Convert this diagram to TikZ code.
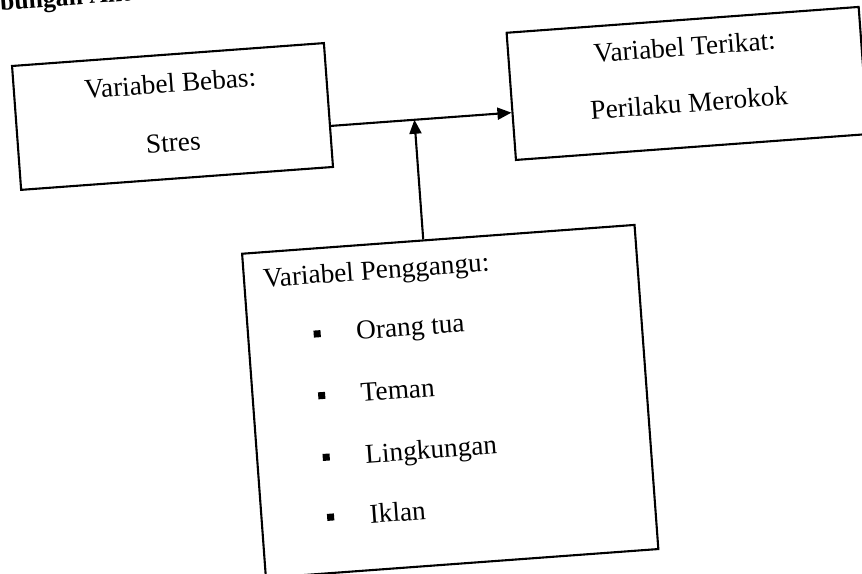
\documentclass[tikz,border=0pt]{standalone}
\usepackage{fontspec}
\setmainfont{Liberation Serif}
\usetikzlibrary{arrows.meta}
\begin{document}
\begin{tikzpicture}[x=1pt,y=1pt,
  box/.style={draw, line width=2.1pt, rectangle, inner sep=0pt},
  lbl/.style={font=\fontsize{27.3}{32}\selectfont, inner sep=0pt, anchor=base},
  item/.style={lbl, anchor=base west},
  bul/.style={fill, rectangle, minimum size=7pt, inner sep=0pt},
  arr/.style={line width=2.1pt, -{Triangle[length=14pt,width=12pt]}}]
\useasboundingbox (0,0) rectangle (862,573);
\clip (0,0) rectangle (862,573);
\begin{scope}[rotate around={4.2:(431,286.5)}, transform shape]
  % heading (cut off at the top edge, as in the scan)
  \node[font=\bfseries\fontsize{25.7}{30}\selectfont, anchor=base west, inner sep=0pt] (hd) at (21.8,593.3) {bungan Antar};
  % boxes
  \node[box, minimum width=312.7pt, minimum height=124.2pt] (lb) at (185.65,475) {};
  \node[box, minimum width=353pt, minimum height=127.5pt] (rb) at (701.5,470.25) {};
  \node[box, minimum width=393.5pt, minimum height=325pt] (bb) at (441.75,170.5) {};
  % texts
  \node[lbl] (lb1) at (185.7,499) {Variabel Bebas:};
  \node[lbl] (lb2) at (184.5,440) {Stres};
  \node[lbl] (rb1) at (701.5,498) {Variabel Terikat:};
  \node[lbl] (rb2) at (702,441.5) {Perilaku Merokok};
  \node[item] (bb0) at (264,298) {Variabel Penggangu:};
  \node[bul] (b1) at (314,247.6) {};
  \node[item] (t1) at (353,238.6) {Orang tua};
  \node[bul] (b2) at (314,185.7) {};
  \node[item] (t2) at (353,176.7) {Teman};
  \node[bul] (b3) at (314,123.9) {};
  \node[item] (t3) at (353,114.9) {Lingkungan};
  \node[bul] (b4) at (314,63.8) {};
  \node[item] (t4) at (353,54.8) {Iklan};
  % connectors
  \coordinate (j) at (426.7,454);
  \draw[arr] (lb.east |- j) -- (rb.west |- j);
  \draw[arr] (bb.north -| j) -- (j);
\end{scope}
\end{tikzpicture}
\end{document}
